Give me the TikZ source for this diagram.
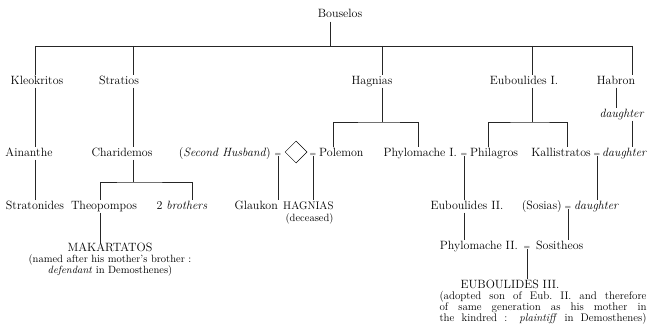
\documentclass[tikz,border=0pt]{standalone}
\usetikzlibrary{shapes.geometric}
\begin{document}
\begin{tikzpicture}[x=1pt,y=-1pt,
  every node/.style={font=\fontsize{12}{12}\selectfont},
  nm/.style={inner sep=1pt,text height=8pt,text depth=2.5pt},
  eqs/.style={inner sep=0pt,text height=6pt,text depth=0pt,font=\fontsize{8}{8}\selectfont},
  note/.style={inner sep=0pt,align=center,font=\fontsize{10.5}{11}\selectfont},
  ln/.style={line width=0.5pt,black!85}]
\useasboundingbox (0,0) rectangle (655,329);
% coordinates of the top bar
\coordinate (bar) at (330,46);
\coordinate (barL) at (35,46);
\coordinate (barR) at (632,46);
% generation 1
\node[nm,anchor=base] (bous) at (340,18) {Bouselos};
\node[nm,anchor=base] (kleo) at (37,84) {Kleokritos};
\node[nm,anchor=base] (strat) at (119,84) {Stratios};
\node[nm,anchor=base] (hagn) at (372,84) {Hagnias};
\node[nm,anchor=base] (eub1) at (524,84) {Euboulides I.};
\node[nm,anchor=base] (habr) at (616,84) {Habron};
\node[nm,anchor=base] (hdau) at (622,117) {\textit{daughter}};
% generation 2
\node[nm,anchor=base] (ain) at (29,156) {Ainanthe};
\node[nm,anchor=base] (chari) at (122,156) {Charidemos};
\node[nm,anchor=base east] (sh) at (272,156) {(\textit{Second Husband})};
\node[eqs,anchor=base] (eq1) at (278,156) {=};
\node[draw,diamond,minimum width=22pt,minimum height=22pt,inner sep=0pt,line width=0.5pt] (dia) at (296,152) {};
\node[eqs,anchor=base] (eq2) at (313,156) {=};
\node[nm,anchor=base west] (pol) at (318,156) {Polemon};
\node[nm,anchor=base east] (phy1) at (458,156) {Phylomache I.};
\node[eqs,anchor=base] (eqA) at (464,156) {=};
\node[nm,anchor=base west] (phil) at (469,156) {Philagros};
\node[nm,anchor=base east] (kall) at (592,156) {Kallistratos};
\node[eqs,anchor=base] (eqB) at (597,156) {=};
\node[nm,anchor=base west] (dau2) at (601,156) {\textit{daughter}};
% generation 3
\node[nm,anchor=base] (strato) at (35,209) {Stratonides};
\node[nm,anchor=base] (theo) at (104,209) {Theopompos};
\node[nm,anchor=base] (bro) at (182,209) {2 \textit{brothers}};
\node[nm,anchor=base east] (glau) at (279,209) {Glaukon};
\node[nm,anchor=base west,font=\fontsize{11}{11}\selectfont] (hagN) at (282,209) {HAGNIAS};
\node[inner sep=1pt,anchor=north east,font=\fontsize{10.5}{11}\selectfont] (dec) at (hagN.south east) {(deceased)};
\node[nm,anchor=base] (eub2) at (467,209) {Euboulides II.};
\node[nm,anchor=base east] (sos) at (563,209) {(Sosias)};
\node[eqs,anchor=base] (eqC) at (568,209) {=};
\node[nm,anchor=base west] (dau3) at (573,209) {\textit{daughter}};
% generation 4
\node[nm,anchor=base east] (phy2) at (519,249) {Phylomache II.};
\node[eqs,anchor=base] (eqD) at (527,249) {=};
\node[nm,anchor=base west] (sosi) at (535,249) {Sositheos};
\node[note,anchor=north] (mak) at (110,243) {{\fontsize{12}{12}\selectfont MAKARTATOS}\\(named after his mother's brother :\\\textit{defendant} in Demosthenes)};
\node[nm,anchor=base] (eub3) at (510,288) {EUBOULIDES III.};
\node[note,anchor=north,font=\fontsize{11}{11}\selectfont] (eub3n) at (543,291) {\makebox[207pt][s]{(adopted son of Eub.\ II. and therefore}\\\makebox[207pt][s]{of same generation as his mother in}\\\makebox[207pt][s]{the kindred : \textit{plaintiff} in Demosthenes)}};
% connectors
\draw[ln] (barL) -- (barR);
\draw[ln] (bous.south -| bar) -- (bar);
\draw[ln] (barL) -- (kleo.north -| barL);
\draw[ln] (133,46) -- (strat.north -| 133,0);
\draw[ln] (382,46) -- (hagn.north -| 382,0);
\draw[ln] (532,46) -- (eub1.north -| 532,0);
\draw[ln] (barR) -- (habr.north -| barR);
\draw[ln] (kleo.south -| barL) -- (ain.north -| barL);
\draw[ln] (ain.south -| barL) -- (strato.north -| barL);
\draw[ln] (strat.south -| 133,0) -- (chari.north -| 133,0);
\draw[ln] (hagn.south -| 382,0) -- (382,122);
\draw[ln] (pol.north -| 333,0) |- (382,122) -| (phy1.north -| 418,0);
\draw[ln] (eub1.south -| 532,0) -- (532,122);
\draw[ln] (phil.north -| 488,0) |- (532,122) -| (kall.north -| 567,0);
\draw[ln] (habr.south -| 616,0) -- (hdau.north -| 616,0);
\draw[ln] (hdau.south -| barR) -- (dau2.north -| barR);
\draw[ln] (chari.south -| 133,0) -- (133,182);
\draw[ln] (theo.north -| 100,0) |- (133,182) -| (bro.north -| 192,0);
\draw[ln] (theo.south -| 100,0) -- (mak.north -| 100,0);
\draw[ln] (eq1.south) -- (glau.north -| eq1);
\draw[ln] (eq2.south) -- (hagN.north -| eq2);
\draw[ln] (eqA.south) -- (eub2.north -| eqA);
\draw[ln] (eqB.south) -- (dau3.north -| eqB);
\draw[ln] (eub2.south -| eqA) -- (phy2.north -| eqA);
\draw[ln] (eqC.south) -- (sosi.north -| eqC);
\draw[ln] (eqD.south) -- (eub3.north -| eqD);
\end{tikzpicture}
\end{document}
